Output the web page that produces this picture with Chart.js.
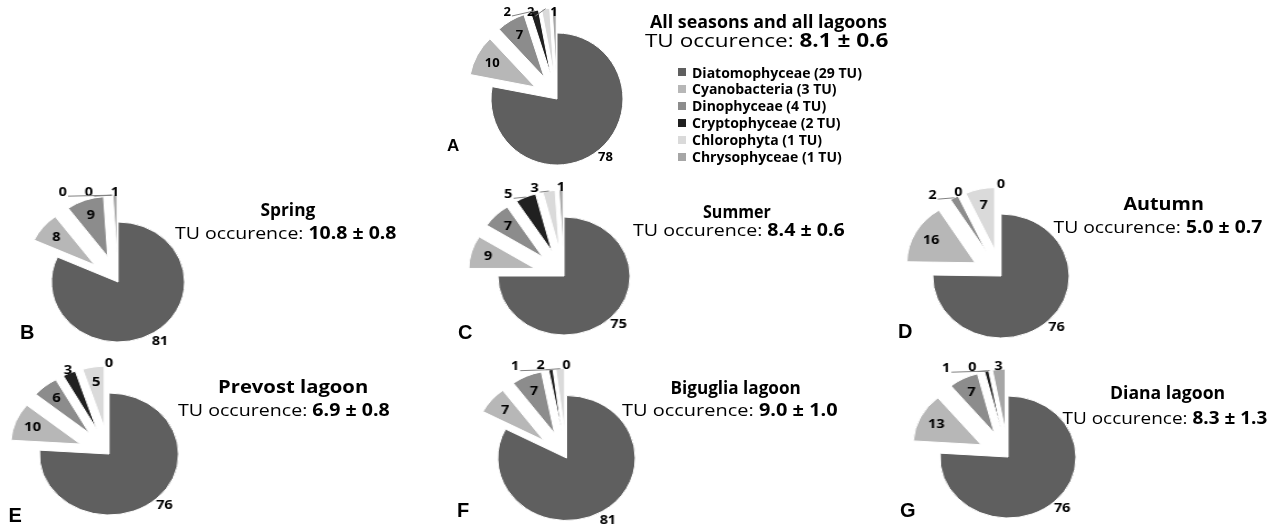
<!DOCTYPE html>
<html><head><meta charset="utf-8">
<script src="https://cdn.jsdelivr.net/npm/chart.js@4.4.1/dist/chart.umd.min.js"></script>
<style>
html,body{margin:0;padding:0;background:#fff;}
body{width:1275px;height:529px;overflow:hidden;position:relative;font-family:'Open Sans',sans-serif;color:#000;}
.pw{position:absolute;transform-origin:center center;}
.txt{position:absolute;white-space:nowrap;line-height:1;transform-origin:center center;}
.leg{position:absolute;white-space:nowrap;line-height:1;transform-origin:left center;font-weight:bold;}
.sq{position:absolute;width:8px;height:8px;}
</style></head><body>
<script>
// ---- data ----
const groups = ['Diatomophyceae', 'Cyanobacteria', 'Dinophyceae', 'Cryptophyceae', 'Chlorophyta', 'Chrysophyceae'];
const groupTU = [29, 3, 4, 2, 1, 1];
const allSeasonsAllLagoons = [78, 10, 7, 2, 2, 1];
const spring = [81, 8, 9, 0, 0, 1];
const summer = [75, 9, 7, 5, 3, 1];
const autumn = [76, 16, 2, 0, 7, 0];
const prevostLagoon = [76, 10, 6, 3, 5, 0];
const bigugliaLagoon = [81, 7, 7, 1, 2, 0];
const dianaLagoon = [76, 13, 7, 1, 0, 3];
const panelLetters = ['A', 'B', 'C', 'D', 'E', 'F', 'G'];
const panelTitles = ['All seasons and all lagoons', 'Spring', 'Summer', 'Autumn', 'Prevost lagoon', 'Biguglia lagoon', 'Diana lagoon'];
const tuMean = ['8.1', '10.8', '8.4', '5.0', '6.9', '9.0', '8.3'];
const tuSD = ['0.6', '0.8', '0.6', '0.7', '0.8', '1.0', '1.3'];
const panelValues = [allSeasonsAllLagoons, spring, summer, autumn, prevostLagoon, bigugliaLagoon, dianaLagoon];

// ---- styles / layout ----
const sliceColors = ['#5f5f5f', '#b7b7b7', '#8c8c8c', '#202020', '#dadada', '#a6a6a6'];
const layout = [
  {cx:556.7, cy:99,    r:66,   sx:1.00, ex:25, h:190, letter:[453,146,17], title:[768.5,20.7,18,237], tu:[766.5,40,19,243]},
  {cx:118.3, cy:282.3, r:60,   sx:1.11, ex:27, h:220, letter:[27,332,20],  title:[287.5,209.5,17,55], tu:[285.5,232.5,17,221]},
  {cx:564.3, cy:276,   r:59,   sx:1.12, ex:27, h:220, letter:[465,332,20], title:[737,211,17,68],    tu:[739,229,17,212]},
  {cx:1001,  cy:275.7, r:62,   sx:1.10, ex:27, h:220, letter:[905,331,20], title:[1163,203,17,80],   tu:[1157.5,226.7,17,209]},
  {cx:109.3, cy:454.3, r:61,   sx:1.14, ex:27, h:220, letter:[15,515,20],  title:[293,386,17,150],   tu:[284,409,17,212]},
  {cx:566,   cy:457.7, r:62.5, sx:1.10, ex:27, h:220, letter:[463,510,20], title:[735,387.5,17,130],  tu:[730,409,17,216]},
  {cx:1007.7,cy:456.7, r:61,   sx:1.115,ex:27, h:220, letter:[908,510,20], title:[1167.5,392.5,17,115],tu:[1165,417.5,17,205]}
];

function lum(hex){const n=parseInt(hex.slice(1),16);return (0.299*((n>>16)&255)+0.587*((n>>8)&255)+0.114*(n&255))/255;}

// explode all slices except the first one, by translating the arc elements along their mid angle
const explodePlugin = {
  id:'explode',
  beforeDatasetsDraw(chart, args, o){
    const meta = chart.getDatasetMeta(0);
    const a = chart.chartArea;
    const cx=(a.left+a.right)/2, cy=(a.top+a.bottom)/2;
    meta.data.forEach((arc,i)=>{
      if (i < o.from) { arc.x = cx; arc.y = cy; return; }
      const mid=(arc.startAngle+arc.endAngle)/2;
      arc.x = cx + Math.cos(mid)*o.distance;
      arc.y = cy + Math.sin(mid)*o.distance;
    });
  }
};

const labelPlugin = {
  id:'sliceLabels',
  afterDatasetsDraw(chart, args, o){
    const ctx = chart.ctx;
    const meta = chart.getDatasetMeta(0);
    const ds = chart.data.datasets[0];
    const vals = ds.data;
    const total = vals.reduce((s,v)=>s+v,0);
    ctx.save();
    ctx.font = o.font;
    ctx.fillStyle = '#000';
    ctx.textAlign = 'center';
    ctx.textBaseline = 'middle';
    const outs = [];
    meta.data.forEach((arc,i)=>{
      const v = vals[i];
      const mid = (arc.startAngle+arc.endAngle)/2;
      const R = arc.outerRadius;
      const c = Math.cos(mid), s = Math.sin(mid);
      const txt = String(v);
      if (v/total > 0.5) {
        ctx.fillText(txt, arc.x + c*(R+o.outerPad), arc.y + s*(R+o.outerPad));
      } else if (v >= 6 || (v >= 5 && lum(ds.backgroundColor[i]) > 0.4)) {
        ctx.fillText(txt, arc.x + c*R*o.inside, arc.y + s*R*o.inside);
      } else {
        const nx = arc.x + c*(R+o.gap);
        outs.push({txt, w:ctx.measureText(txt).width, ax:arc.x + c*R, ay:arc.y + s*R,
                   nx, x:nx, y:Math.max(o.minY, arc.y + s*(R+o.gap))});
      }
    });
    outs.sort((p,q)=>q.nx-p.nx);
    for (let k=1;k<outs.length;k++){
      const prev=outs[k-1], cur=outs[k];
      const lim = prev.x - (prev.w+cur.w)/2 - o.spacing;
      if (cur.x > lim) cur.x = lim;
    }
    ctx.strokeStyle = '#808080';
    ctx.lineWidth = 1;
    outs.forEach(p=>{
      if (Math.abs(p.x-p.nx) > 5) {
        ctx.beginPath();
        ctx.moveTo(p.x + p.w/2 + 1, p.y + 4);
        ctx.lineTo(p.ax, p.ay);
        ctx.stroke();
      }
      ctx.fillText(p.txt, p.x, p.y);
    });
    ctx.restore();
  }
};

// ---- charts ----
panelValues.forEach((vals, k)=>{
  const L = layout[k];
  const W = Math.round(2*(L.r + L.ex + 60));
  const H = L.h;
  const wrap = document.createElement('div');
  wrap.className = 'pw';
  wrap.style.left = (L.cx - W/2) + 'px';
  wrap.style.top = (L.cy - H/2) + 'px';
  wrap.style.width = W + 'px';
  wrap.style.height = H + 'px';
  wrap.style.transform = 'scaleX(' + L.sx + ')';
  const cv = document.createElement('canvas');
  cv.width = W; cv.height = H;
  wrap.appendChild(cv);
  document.body.appendChild(wrap);
  new Chart(cv, {
    type:'pie',
    data:{labels:groups, datasets:[{data:vals, backgroundColor:sliceColors, borderColor:'#ffffff', borderWidth:1, radius:L.r}]},
    options:{
      responsive:false, animation:false, events:[],
      layout:{padding:0},
      plugins:{
        legend:{display:false}, tooltip:{enabled:false},
        explode:{distance:L.ex, from:1},
        sliceLabels:{font:'bold 13px "Open Sans", sans-serif', outerPad:10, inside:0.74, gap:3, spacing:16, minY:8}
      }
    },
    plugins:[explodePlugin, labelPlugin]
  });
});

// ---- texts ----
function place(html, cx, cy, font, targetW){
  const d = document.createElement('div');
  d.className = 'txt';
  d.style.font = font;
  d.innerHTML = html;
  document.body.appendChild(d);
  const w = d.offsetWidth, h = d.offsetHeight;
  d.style.left = (cx - w/2) + 'px';
  d.style.top = (cy - h/2) + 'px';
  if (targetW) d.style.transform = 'scaleX(' + (targetW/w) + ')';
}
layout.forEach((L,k)=>{
  place(panelLetters[k], L.letter[0], L.letter[1], 'bold ' + L.letter[2] + 'px "Liberation Sans", Arial, sans-serif');
  place(panelTitles[k], L.title[0], L.title[1], 'bold ' + L.title[2] + 'px "Open Sans", sans-serif', L.title[3]);
  place('TU occurence: <b>' + tuMean[k] + ' \u00b1 ' + tuSD[k] + '</b>', L.tu[0], L.tu[1], L.tu[2] + 'px "Open Sans", sans-serif', L.tu[3]);
});

// ---- legend (panel A) ----
const legX = 678, legY0 = 72, legStep = 16.9, legTextW0 = 170;
let legScale = 1;
groups.forEach((g,i)=>{
  const y = legY0 + i*legStep;
  const sq = document.createElement('div');
  sq.className = 'sq';
  sq.style.left = legX + 'px';
  sq.style.top = (y - 4) + 'px';
  sq.style.background = sliceColors[i];
  document.body.appendChild(sq);
  const d = document.createElement('div');
  d.className = 'leg';
  d.style.font = 'bold 14px "Open Sans", sans-serif';
  d.textContent = g + ' (' + groupTU[i] + ' TU)';
  document.body.appendChild(d);
  const w = d.offsetWidth, h = d.offsetHeight;
  if (i === 0) legScale = legTextW0 / w;
  d.style.left = (legX + 14) + 'px';
  d.style.top = (y - h/2) + 'px';
  d.style.transform = 'scaleX(' + legScale + ')';
});
</script>
</body></html>
